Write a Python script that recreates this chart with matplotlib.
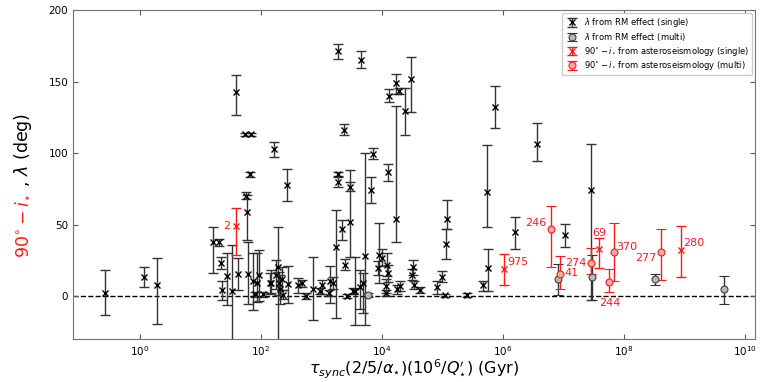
import numpy as np
import matplotlib
matplotlib.use("Agg")
import matplotlib.pyplot as plt
from matplotlib.ticker import NullLocator

# lambda from RM effect (single)
tau_rm = [0.26, 1.16, 1.9, 16, 20, 22, 23, 27, 33, 39, 42, 56, 58, 55, 68, 66, 61, 74, 85, 93,
          80, 108, 141, 163, 147, 177, 191, 195, 206, 222, 230, 270, 280, 410, 475, 550, 720, 950,
          1020, 1380, 1550, 1320, 1740, 1900, 1850, 1900, 2200, 2350, 2650, 2450, 2950, 3000,
          3300, 3550, 4350, 4500, 4850, 5200, 6600, 7100, 8900, 8600, 1.0e4, 1.2e4, 1.25e4,
          1.15e4, 1.17e4, 1.26e4, 1.3e4, 1.7e4, 1.7e4, 1.9e4, 2.0e4, 1.8e4, 2.4e4, 3.0e4,
          3.2e4, 3.1e4, 3.4e4, 4.3e4, 8.1e4, 1.0e5, 1.1e5, 1.2e5, 1.15e5, 2.5e5, 4.7e5, 5.6e5,
          5.5e5, 7.4e5, 1.6e6, 3.6e6, 1.05e7, 2.8e7]
lam_rm = [2, 13.5, 7.5, 38, 38, 23, 4, 14, 3.5, 142.4, 15.4, 70, 59, 113, 113, 85, 15.6, 10.5, 9, 14.4,
          1.2, 1.2, 9.3, 102.5, 9.3, 15, 20, 9, 4.7, 12, 1, 77.5, 8.2, 7.5, 9, 0, 5.2, 3.5,
          7.5, 10.5, 9, 2.4, 34.5, 171, 85.4, 79.6, 47, 116.3, 0, 22, 76.5, 52,
          3.5, 3.5, 6, 165.2, 9.3, 28, 74, 99.6, 29, 19.8, 26.8, 22, 16,
          7, 2, 86.5, 140, 149, 54, 143.5, 7, 4.7, 129.5, 151.5,
          20, 15, 7.7, 4, 6.3, 13.5, 0.5, 54.2, 36.6, 0.7, 7.7, 19.8,
          72.6, 132.2, 44.7, 106.6, 42.4, 74.5]
lo_rm = [15.5, 7, 27, 22, 3, 4, 7, 20, 45, 16, 11, 2, 20, 1, 1, 1.5, 21, 20, 13, 18,
         1.5, 1.5, 8, 5, 7, 10, 55, 8, 10, 8, 3, 11, 13, 5, 2.5, 2, 22, 2,
         6, 15, 4, 2, 50, 5, 1.5, 3.5, 7.5, 4, 1.5, 4, 3, 25,
         2, 24, 15, 6, 21, 48, 9, 4, 20, 5, 6, 8, 6,
         5, 2, 6, 4.5, 8, 16, 2.3, 3.5, 3, 17, 23,
         5, 4, 3, 2, 4.5, 4, 1, 7, 11, 1.5, 4, 16,
         24, 15, 11.5, 12.5, 8, 77]
hi_rm = [16.5, 7, 19, 10, 2, 4, 6.5, 16, 32, 12, 11, 3, 12, 1, 1, 1.5, 22, 19.5, 21, 18,
         1.5, 1.5, 7, 5, 9, 10, 28, 8, 10, 8, 3, 11, 13, 5, 2.5, 2, 22, 2,
         4, 10.5, 4, 2, 26, 5, 1.5, 3.5, 6.5, 4, 1.5, 4, 3, 36,
         2, 24, 12, 6, 7, 72, 9, 4, 22, 5, 6, 8, 6,
         5, 2, 6, 4.5, 6.5, 79, 2.3, 3.5, 3, 16, 15.5,
         5, 4, 3, 2, 4.5, 4, 1, 13, 10, 1.5, 3, 13,
         33, 15, 10.5, 14.5, 8, 32]

# lambda from RM effect (multi)
tau_rm_multi = [5.9e3, 8.1e6, 2.95e7, 3.2e8, 4.5e9]
lam_rm_multi = [0.7, 11.6, 13.5, 11.6, 4.7]
lo_rm_multi = [1.5, 11, 16, 4, 10.5]
hi_rm_multi = [1.5, 11, 15.5, 3.5, 9.5]

# 90 - i from asteroseismology (single)
tau_as = [39, 1.05e6, 3.9e7, 8.7e8]
inc_as = [48.8, 19.1, 32.6, 32]
lo_as = [20, 11.5, 13, 19]
hi_as = [13, 10.5, 8, 17]
names_as = ["2", "975", "69", "280"]

# 90 - i from asteroseismology (multi)
tau_as_multi = [6.2e6, 8.8e6, 2.8e7, 6.8e7, 5.6e7, 4.1e8]
inc_as_multi = [47.2, 15.1, 23.3, 30.7, 10, 30.7]
lo_as_multi = [27, 10.5, 7.7, 20, 7, 19.5]
hi_as_multi = [15.5, 12.8, 10.5, 20.5, 8.6, 16.5]
names_as_multi = ["246", "41", "274", "370", "244", "277"]

fig = plt.figure(figsize=(7.63, 3.82), dpi=100)
ax = fig.add_axes([0.0957, 0.1126, 0.8938, 0.8612])

red = "#ff1a1a"
eb = dict(capsize=3.5, elinewidth=1, capthick=1, markersize=4.5, mew=1)

ax.axhline(0, ls="--", color="k", lw=1, zorder=1)

c1 = ax.errorbar(tau_rm, lam_rm, yerr=[lo_rm, hi_rm], fmt="x", color="k", ecolor="0.2",
                 label=r"$\lambda$ from RM effect (single)", **eb)
c2 = ax.errorbar(tau_rm_multi, lam_rm_multi, yerr=[lo_rm_multi, hi_rm_multi], fmt="o",
                 color="0.15", mfc="0.72", mec="0.25", ecolor="0.2",
                 label=r"$\lambda$ from RM effect (multi)",
                 capsize=3.5, elinewidth=1, capthick=1, markersize=5, mew=0.8)
# caps look lighter than the stems in the original
for c in (c1, c2):
    for cap in c[1]:
        cap.set_color("0.45")

ax.errorbar(tau_as, inc_as, yerr=[lo_as, hi_as], fmt="x", color=red, ecolor=red,
            label=r"$90^{\circ}-i_{\star}$ from asteroseismology (single)", **eb)
ax.errorbar(tau_as_multi, inc_as_multi, yerr=[lo_as_multi, hi_as_multi], fmt="o", color=red,
            mfc="#ffa8a8", mec=red, ecolor=red,
            label=r"$90^{\circ}-i_{\star}$ from asteroseismology (multi)",
            capsize=3.5, elinewidth=1, capthick=1, markersize=5, mew=0.8)

# labels next to the asteroseismic points: offset in points, alignment
offs_as = [(-4, 0, "right", "center"), (2, 5, "left", "center"),
           (0, 8, "center", "bottom"), (2, 5, "left", "center")]
offs_as_multi = [(-3, 4, "right", "center"), (3, 1, "left", "center"),
                 (-3, 0, "right", "center"), (2, 4, "left", "center"),
                 (1, -12, "center", "top"), (-3, -4, "right", "center")]
for t, v, n, o in zip(tau_as, inc_as, names_as, offs_as):
    ax.annotate(n, (t, v), xytext=o[:2], textcoords="offset points", ha=o[2], va=o[3],
                color=red, fontsize=8)
for t, v, n, o in zip(tau_as_multi, inc_as_multi, names_as_multi, offs_as_multi):
    ax.annotate(n, (t, v), xytext=o[:2], textcoords="offset points", ha=o[2], va=o[3],
                color=red, fontsize=8)

ax.set_xscale("log")
ax.set_xlim(10 ** -1.107, 10 ** 10.165)
ax.set_ylim(-30, 200)
ax.set_xticks([1, 1e2, 1e4, 1e6, 1e8, 1e10])
ax.xaxis.set_minor_locator(NullLocator())
ax.set_yticks([0, 50, 100, 150, 200])
ax.tick_params(direction="in", top=True, right=True, labelsize=7.5, length=3.5,
               color="0.35", pad=3.5)
for s in ax.spines.values():
    s.set_color("0.45")

ax.set_xlabel(r"$\tau_{sync}(2/5/\alpha_{\star})(10^6/Q^{\prime}_{\star})$ (Gyr)", fontsize=11.5,
              labelpad=0)

# two-colour y label
t1 = fig.text(27.5 / 763, 1 - 258 / 382, r"$90^{\circ} - i_{\star}$", color=red, fontsize=12.5,
              rotation=90, rotation_mode="anchor", ha="left", va="baseline")
fig.canvas.draw()
bb = t1.get_window_extent(fig.canvas.get_renderer())
fig.text(27.5 / 763, (bb.y1 + 1) / fig.bbox.height, r" , $\lambda$ (deg)", color="k",
         fontsize=12.5, rotation=90, rotation_mode="anchor", ha="left", va="baseline")

leg = ax.legend(loc="upper right", fontsize=6, framealpha=1, borderaxespad=0.4,
                handletextpad=0.6, labelspacing=0.2, borderpad=0.35, handlelength=1.6)
leg.get_frame().set_edgecolor("0.8")

fig.savefig("out.png", dpi=100)
